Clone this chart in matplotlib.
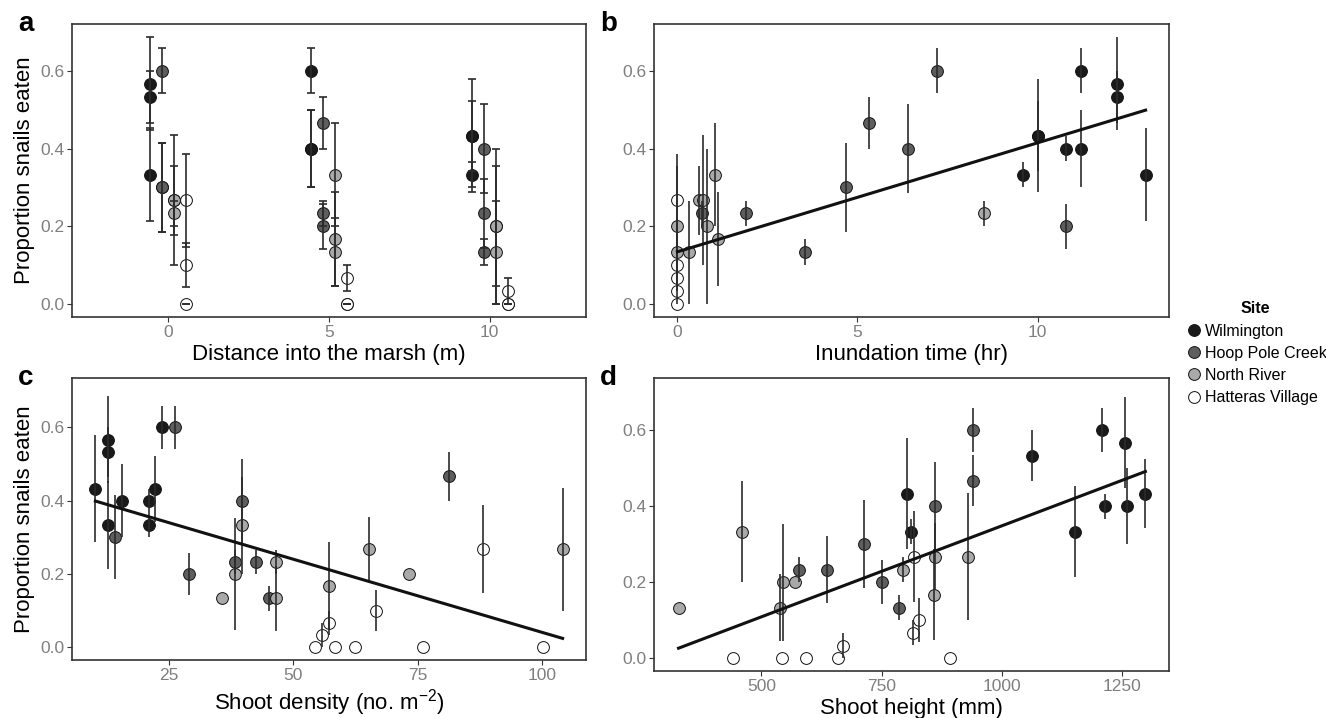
import matplotlib
matplotlib.use('Agg')
import matplotlib.pyplot as plt
from matplotlib.lines import Line2D

plt.rcParams['font.family'] = ['Liberation Sans', 'DejaVu Sans']
plt.rcParams['mathtext.default'] = 'regular'

sites = ['Wilmington', 'Hoop Pole Creek', 'North River', 'Hatteras Village']
fills = ['#1a1a1a', '#5e5e5e', '#a9a9a9', '#ffffff']
dodge = [-0.5625, -0.1875, 0.1875, 0.5625]

# panel a: distance into the marsh
a_site = [0] * 9 + [1] * 9 + [2] * 9 + [3] * 9
a_dist = [0, 0, 0, 5, 5, 5, 10, 10, 10] * 4
a_prop = [0.567, 0.533, 0.333, 0.6, 0.4, 0.4, 0.433, 0.433, 0.333,
          0.6, 0.3, 0.3, 0.467, 0.233, 0.2, 0.4, 0.233, 0.133,
          0.267, 0.267, 0.233, 0.333, 0.167, 0.133, 0.2, 0.2, 0.133,
          0.267, 0.1, 0.0, 0.067, 0.0, 0.0, 0.033, 0.0, 0.0]
a_se = [0.12, 0.067, 0.12, 0.058, 0.1, 0.1, 0.146, 0.09, 0.033,
        0.058, 0.115, 0.115, 0.067, 0.033, 0.058, 0.115, 0.088, 0.033,
        0.167, 0.089, 0.033, 0.133, 0.12, 0.088, 0.2, 0.154, 0.133,
        0.12, 0.057, 0.0, 0.033, 0.0, 0.0, 0.033, 0.0, 0.0]

# panel b: inundation time
b_site = [3] * 5 + [2] * 9 + [1] * 8 + [0] * 9
b_time = [0, 0, 0, 0, 0,
          0, 0, 0.33, 0.61, 0.72, 0.83, 1.03, 1.14, 8.5,
          0.67, 1.91, 3.54, 4.67, 5.33, 6.41, 7.21, 10.8,
          9.6, 10.0, 10.0, 10.8, 11.2, 11.2, 12.2, 12.2, 13.0]
b_prop = [0.267, 0.1, 0.067, 0.033, 0.0,
          0.2, 0.133, 0.133, 0.267, 0.267, 0.2, 0.333, 0.167, 0.233,
          0.233, 0.233, 0.133, 0.3, 0.467, 0.4, 0.6, 0.2,
          0.333, 0.433, 0.433, 0.4, 0.4, 0.6, 0.567, 0.533, 0.333]
b_se = [0.12, 0.057, 0.033, 0.033, 0.0,
        0.154, 0.088, 0.133, 0.089, 0.167, 0.2, 0.133, 0.12, 0.033,
        0.033, 0.033, 0.033, 0.115, 0.067, 0.115, 0.058, 0.058,
        0.033, 0.146, 0.09, 0.033, 0.1, 0.058, 0.12, 0.067, 0.12]
b_fit_x = [0.0, 13.0]
b_fit_y = [0.134, 0.499]

# panel c: shoot density
c_site = [0] * 9 + [1] * 8 + [2] * 9 + [3] * 9
c_dens = [10.2, 12.8, 12.8, 12.8, 15.5, 20.9, 20.9, 22.2, 23.5,
          14.1, 26.2, 29.0, 38.3, 39.7, 42.4, 45.1, 81.3,
          35.7, 38.3, 39.7, 46.4, 46.4, 57.2, 65.1, 73.3, 104.1,
          54.4, 55.7, 57.1, 58.4, 62.4, 66.6, 76.0, 88.0, 100.1]
c_prop = [0.433, 0.567, 0.533, 0.333, 0.4, 0.4, 0.333, 0.433, 0.6,
          0.3, 0.6, 0.2, 0.233, 0.4, 0.233, 0.133, 0.467,
          0.133, 0.2, 0.333, 0.233, 0.133, 0.167, 0.267, 0.2, 0.267,
          0.0, 0.033, 0.067, 0.0, 0.0, 0.1, 0.0, 0.267, 0.0]
c_se = [0.146, 0.12, 0.067, 0.12, 0.1, 0.033, 0.033, 0.09, 0.058,
        0.115, 0.058, 0.058, 0.033, 0.115, 0.033, 0.033, 0.067,
        0.0, 0.154, 0.133, 0.033, 0.088, 0.12, 0.089, 0.0, 0.167,
        0.0, 0.033, 0.033, 0.0, 0.0, 0.057, 0.0, 0.12, 0.0]
c_fit_x = [10.2, 104.1]
c_fit_y = [0.399, 0.024]

# panel d: shoot height
d_site = [2] * 9 + [1] * 8 + [3] * 9 + [0] * 9
d_height = [328, 460.6, 538, 544, 569, 794.6, 861.6, 858, 930,
            579, 637, 713, 751, 785.7, 861.6, 939, 940.5,
            441, 543.6, 592, 659, 670, 816, 817, 828.4, 893,
            802, 811, 1062, 1152, 1207, 1215, 1255, 1260, 1298]
d_prop = [0.133, 0.333, 0.133, 0.2, 0.2, 0.233, 0.267, 0.167, 0.267,
          0.233, 0.233, 0.3, 0.2, 0.133, 0.4, 0.467, 0.6,
          0.0, 0.0, 0.0, 0.0, 0.033, 0.067, 0.267, 0.1, 0.0,
          0.433, 0.333, 0.533, 0.333, 0.6, 0.4, 0.567, 0.4, 0.433]
d_se = [0.0, 0.133, 0.088, 0.154, 0.0, 0.033, 0.089, 0.12, 0.167,
        0.033, 0.088, 0.115, 0.058, 0.033, 0.115, 0.067, 0.058,
        0.0, 0.0, 0.0, 0.0, 0.033, 0.033, 0.12, 0.057, 0.0,
        0.146, 0.033, 0.067, 0.12, 0.058, 0.033, 0.12, 0.1, 0.09]
d_fit_x = [328, 1298]
d_fit_y = [0.026, 0.491]

W, H = 1326, 718
fig = plt.figure(figsize=(W / 100, H / 100), dpi=100)


def box(l, t, r, b):
    return [l / W, 1 - b / H, (r - l) / W, (b - t) / H]


def style(ax, xlabel, xticks, xlim, ylim, letter):
    ax.set_xlim(xlim)
    ax.set_ylim(ylim)
    ax.set_xticks(xticks)
    ax.set_yticks([0.0, 0.2, 0.4, 0.6])
    ax.set_yticklabels(['0.0', '0.2', '0.4', '0.6'])
    ax.tick_params(direction='out', length=3.5, width=0.8, color='#333333',
                   labelcolor='#7f7f7f', labelsize=12.5, pad=2)
    for s in ax.spines.values():
        s.set_linewidth(1.2)
        s.set_color('#333333')
    ax.set_xlabel(xlabel, fontsize=16, labelpad=3)
    ax.text(-0.105, 1.0, letter, transform=ax.transAxes, fontsize=20,
            fontweight='bold', va='center', ha='left')


def points(ax, x, y, se, site, caps):
    for xi, yi, ei, si in zip(x, y, se, site):
        ax.errorbar(xi, yi, yerr=ei, fmt='none', ecolor='#2b2b2b',
                    elinewidth=1.2, capsize=2.8 if caps else 0,
                    capthick=1.2, zorder=3)
        ax.plot(xi, yi, 'o', ms=8.5, mfc=fills[si], mec='#111111',
                mew=0.7, zorder=2)


ax_a = fig.add_axes(box(72, 24, 586, 317))
ax_b = fig.add_axes(box(654, 24, 1169, 317))
ax_c = fig.add_axes(box(72, 378, 586, 660))
ax_d = fig.add_axes(box(654, 378, 1169, 671))

a_x = [d + dodge[s] for d, s in zip(a_dist, a_site)]
points(ax_a, a_x, a_prop, a_se, a_site, True)
style(ax_a, 'Distance into the marsh (m)', [0, 5, 10], (-3, 13),
      (-0.034, 0.721), 'a')
ax_a.set_ylabel('Proportion snails eaten', fontsize=16, labelpad=4)

points(ax_b, b_time, b_prop, b_se, b_site, False)
ax_b.plot(b_fit_x, b_fit_y, color='#111111', lw=2.2, zorder=4)
style(ax_b, 'Inundation time (hr)', [0, 5, 10], (-0.65, 13.65),
      (-0.034, 0.721), 'b')

points(ax_c, c_dens, c_prop, c_se, c_site, False)
ax_c.plot(c_fit_x, c_fit_y, color='#111111', lw=2.2, zorder=4)
style(ax_c, 'Shoot density (no. m$^{-2}$)', [25, 50, 75, 100], (5.5, 108.8),
      (-0.035, 0.735), 'c')
ax_c.set_ylabel('Proportion snails eaten', fontsize=16, labelpad=4)

points(ax_d, d_height, d_prop, d_se, d_site, False)
ax_d.plot(d_fit_x, d_fit_y, color='#111111', lw=2.2, zorder=4)
style(ax_d, 'Shoot height (mm)', [500, 750, 1000, 1250], (277, 1347),
      (-0.034, 0.737), 'd')

handles = [Line2D([], [], ls='none', marker='o', ms=8.5, mfc=f,
                  mec='#111111', mew=0.7) for f in fills]
leg = fig.legend(handles, sites, loc='upper left',
                 bbox_to_anchor=(1178 / W, 1 - 295 / H), frameon=False,
                 fontsize=11.5, title='Site', handletextpad=0.1,
                 handlelength=1.2, labelspacing=0.45, borderaxespad=0)
leg.get_title().set_fontweight('bold')
leg.get_title().set_fontsize(11.5)

fig.savefig('out.png', dpi=100)
